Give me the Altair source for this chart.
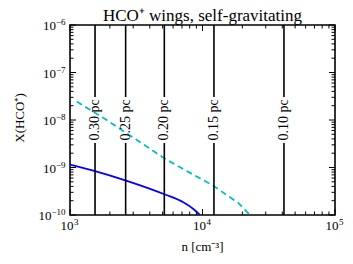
import altair as alt
import pandas as pd

# ---- data ----
blue_n = [1000, 1545, 2650, 5210, 7160, 8530, 9570]
blue_x = [1.15e-9, 8.4e-10, 5.3e-10, 2.7e-10, 1.85e-10, 1.34e-10, 1.0e-10]

cyan_n = [1124, 1892, 5210, 8050, 11720, 18620, 22800]
cyan_x = [2.45e-8, 1.0e-8, 1.53e-9, 7.7e-10, 4.35e-10, 1.8e-10, 1.0e-10]

radius_n = [1545, 2630, 5150, 12200, 41200]
radius_labels = ["0.30 pc", "0.25 pc", "0.20 pc", "0.15 pc", "0.10 pc"]

x_major = [1e3, 1e4, 1e5]
x_exponents = ["3", "4", "5"]
x_minor = [2e3, 3e3, 4e3, 5e3, 6e3, 7e3, 8e3, 9e3,
           2e4, 3e4, 4e4, 5e4, 6e4, 7e4, 8e4, 9e4]

y_major = [1e-10, 1e-9, 1e-8, 1e-7, 1e-6]
y_exponents = ["−10", "−9", "−8", "−7", "−6"]
y_minor = [2e-10, 3e-10, 4e-10, 5e-10, 6e-10, 7e-10, 8e-10, 9e-10,
           2e-9, 3e-9, 4e-9, 5e-9, 6e-9, 7e-9, 8e-9, 9e-9,
           2e-8, 3e-8, 4e-8, 5e-8, 6e-8, 7e-8, 8e-8, 9e-8,
           2e-7, 3e-7, 4e-7, 5e-7, 6e-7, 7e-7, 8e-7, 9e-7]

title_text = "HCO⁺ wings, self-gravitating"
x_title = "n [cm⁻³]"
y_title = "X(HCO⁺)"

# ---- layout ----
W, H = 265, 190
FONT = "Liberation Serif"
MAJ, MIN = 6, 3.5

xscale = alt.Scale(type="log", domain=[1e3, 1e5], nice=False)
yscale = alt.Scale(type="log", domain=[1e-10, 1e-6], nice=False)

X = alt.X("n:Q", scale=xscale, axis=None)
Y = alt.Y("X:Q", scale=yscale, axis=None)

blue_df = pd.DataFrame({"n": blue_n, "X": blue_x})
cyan_df = pd.DataFrame({"n": cyan_n, "X": cyan_x})
rad_df = pd.DataFrame({"n": radius_n, "label": radius_labels})

blue = alt.Chart(blue_df).mark_line(color="#0000ff", strokeWidth=1.8, interpolate="monotone", clip=True).encode(
    x=X, y=Y)

cyan = alt.Chart(cyan_df).mark_line(color="#00bfbf", strokeWidth=1.8, strokeDash=[6, 4], clip=True).encode(
    x=X, y=Y)

rad_top = alt.Chart(rad_df).mark_rule(color="black", strokeWidth=1.6).encode(
    x=X, y=alt.value(0), y2=alt.value(72))
rad_bot = alt.Chart(rad_df).mark_rule(color="black", strokeWidth=1.6).encode(
    x=X, y=alt.value(118), y2=alt.value(H))
rad_text = alt.Chart(rad_df).mark_text(angle=270, font=FONT, fontSize=14, align="center",
                                       baseline="middle", color="black").encode(
    x=X, y=alt.value(95), text="label:N")


def xticks(vals, length):
    df = pd.DataFrame({"n": vals})
    base = alt.Chart(df).mark_rule(color="black", strokeWidth=1)
    return [
        base.encode(x=X, y=alt.value(H), y2=alt.value(H - length)),
        base.encode(x=X, y=alt.value(0), y2=alt.value(length)),
    ]


def yticks(vals, length):
    df = pd.DataFrame({"X": vals})
    base = alt.Chart(df).mark_rule(color="black", strokeWidth=1)
    return [
        base.encode(y=Y, x=alt.value(0), x2=alt.value(length)),
        base.encode(y=Y, x=alt.value(W), x2=alt.value(W - length)),
    ]


# tick labels "10" + raised exponent, drawn through the scales
xl_df = pd.DataFrame({"n": x_major, "exp": x_exponents})
xlab_base = alt.Chart(xl_df).mark_text(font=FONT, fontSize=13, align="right", baseline="alphabetic",
                                       dx=3.5, color="black").encode(
    x=X, y=alt.value(H + 15), text=alt.value("10"))
xlab_exp = alt.Chart(xl_df).mark_text(font=FONT, fontSize=9, align="left", baseline="alphabetic",
                                      dx=4, color="black").encode(
    x=X, y=alt.value(H + 10), text="exp:N")

yl_df = pd.DataFrame({"X": y_major, "exp": y_exponents})
ylab_exp = alt.Chart(yl_df).mark_text(font=FONT, fontSize=9, align="right", baseline="alphabetic",
                                      dy=0, color="black").encode(
    y=Y, x=alt.value(-4.5), text="exp:N")
ylab_base_long = alt.Chart(yl_df).transform_filter("length(datum.exp) == 3").mark_text(
    font=FONT, fontSize=13, align="right", baseline="alphabetic", dy=5, color="black").encode(
    y=Y, x=alt.value(-4.5 - 14.1), text=alt.value("10"))
ylab_base_short = alt.Chart(yl_df).transform_filter("length(datum.exp) == 2").mark_text(
    font=FONT, fontSize=13, align="right", baseline="alphabetic", dy=5, color="black").encode(
    y=Y, x=alt.value(-4.5 - 9.6), text=alt.value("10"))

# titles
one = pd.DataFrame({"t": [title_text], "xt": [x_title], "yt": [y_title]})
title = alt.Chart(one).mark_text(font=FONT, fontSize=17, align="center", baseline="alphabetic",
                                 color="black").encode(x=alt.value(W / 2), y=alt.value(-4.5), text="t:N")
xt = alt.Chart(one).mark_text(font=FONT, fontSize=13, align="center", baseline="alphabetic",
                              color="black").encode(x=alt.value(W / 2), y=alt.value(H + 36), text="xt:N")
yt = alt.Chart(one).mark_text(font=FONT, fontSize=13, align="center", baseline="middle", angle=270,
                              color="black").encode(x=alt.value(-50), y=alt.value(H / 2 - 2), text="yt:N")

layers = [blue, cyan, rad_top, rad_bot, rad_text]
layers += xticks(x_major, MAJ) + xticks(x_minor, MIN) + yticks(y_major, MAJ) + yticks(y_minor, MIN)
layers += [xlab_base, xlab_exp, ylab_exp, ylab_base_long, ylab_base_short, title, xt, yt]

chart = alt.layer(*layers).properties(
    width=W, height=H,
    autosize=alt.AutoSizeParams(type="none"),
    padding={"left": 62, "top": 17, "right": 10, "bottom": 41},
).configure_view(stroke="black", strokeWidth=1.6)

chart.save("out.html", embed_options={"renderer": "svg", "actions": False})
